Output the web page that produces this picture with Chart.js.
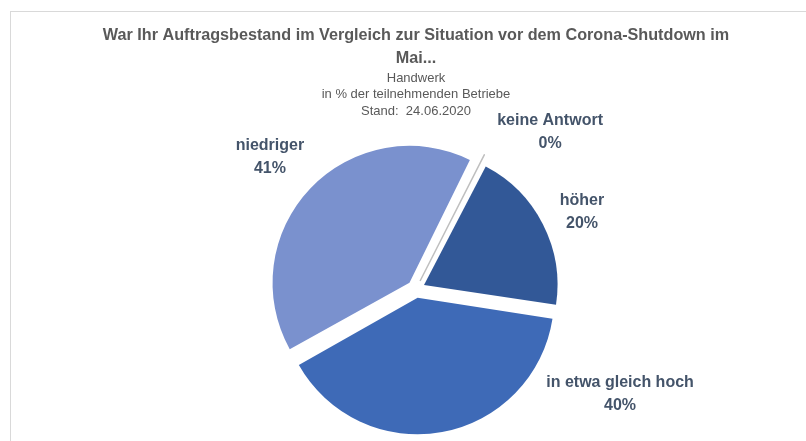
<!DOCTYPE html>
<html>
<head>
<meta charset="utf-8">
<script src="https://cdn.jsdelivr.net/npm/chart.js@4/dist/chart.umd.min.js"></script>
<style>
  html, body { margin: 0; padding: 0; background: #ffffff; overflow: hidden; }
  canvas { display: block; }
</style>
</head>
<body>
<canvas id="c" width="806" height="441"></canvas>
<script>
// ---- data ----
const categories = ['höher', 'in etwa gleich hoch', 'niedriger', 'keine Antwort'];
const values = [20, 40, 41, 0.3];
const sliceColors = ['#325897', '#3E6AB7', '#7A91CE', '#A5A5A5'];
const titleLines = ['War Ihr Auftragsbestand im Vergleich zur Situation vor dem Corona-Shutdown im', 'Mai...'];
const subtitleLines = ['Handwerk', 'in % der teilnehmenden Betriebe', 'Stand:  24.06.2020'];

// label placement around the pie: angle (deg, clockwise from top) and distance in radii
const labelAngles = [65.1, 117.2, 312.1, 40.6];
const labelDistances = [1.376, 1.725, 1.48, 1.549];

const framePlugin = {
  id: 'frame',
  beforeDraw(chart) {
    const ctx = chart.ctx;
    ctx.save();
    ctx.fillStyle = '#ffffff';
    ctx.fillRect(0, 0, chart.width, chart.height);
    ctx.strokeStyle = '#D9D9D9';
    ctx.lineWidth = 1;
    ctx.strokeRect(10.5, 11.5, 1000, 1000);
    ctx.restore();
  }
};

const outerLabels = {
  id: 'outerLabels',
  afterDatasetsDraw(chart) {
    const ctx = chart.ctx;
    const meta = chart.getDatasetMeta(0);
    ctx.save();
    ctx.font = 'bold 16px "Liberation Sans", Arial, sans-serif';
    ctx.fillStyle = '#44546A';
    ctx.textAlign = 'center';
    ctx.textBaseline = 'middle';
    meta.data.forEach((arc, i) => {
      const p = arc.getProps(['x', 'y', 'outerRadius'], true);
      const a = (labelAngles[i] - 90) * Math.PI / 180;
      const d = p.outerRadius * labelDistances[i];
      const cx = p.x + Math.cos(a) * d;
      const cy = p.y + Math.sin(a) * d;
      ctx.fillText(chart.data.labels[i], cx, cy - 11.5);
      ctx.fillText(Math.round(values[i]) + '%', cx, cy + 11.5);
    });
    ctx.restore();
  }
};

new Chart(document.getElementById('c'), {
  type: 'pie',
  data: {
    labels: categories,
    datasets: [{
      data: values,
      backgroundColor: sliceColors,
      borderColor: ['#ffffff', '#ffffff', '#ffffff', '#BFBFBF'],
      borderWidth: [0, 0, 0, 1.5],
      offset: 36,
      rotation: 27.5,
      radius: 133
    }]
  },
  options: {
    responsive: false,
    animation: false,
    layout: { padding: { left: 26, right: 0, top: 0, bottom: 0 } },
    plugins: {
      legend: { display: false },
      tooltip: { enabled: false },
      title: {
        display: true,
        text: titleLines,
        color: '#595959',
        font: { family: '"Liberation Sans", Arial, sans-serif', size: 16.2, weight: 'bold', lineHeight: '23px' },
        padding: { top: 24, bottom: 0 }
      },
      subtitle: {
        display: true,
        text: subtitleLines,
        color: '#595959',
        font: { family: '"Liberation Sans", Arial, sans-serif', size: 13, weight: 'normal', lineHeight: '16.5px' },
        padding: { top: 0, bottom: 17.5 }
      }
    }
  },
  plugins: [framePlugin, outerLabels]
});
</script>
</body>
</html>
